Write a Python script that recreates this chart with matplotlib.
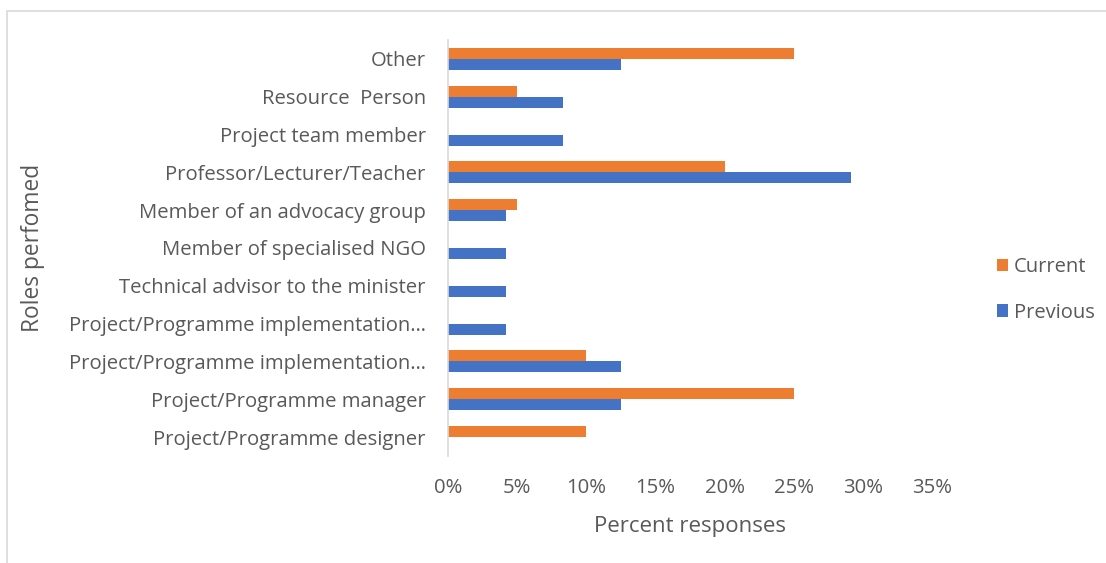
import matplotlib.pyplot as plt
import matplotlib.patches as mpatches
import numpy as np

# categories listed bottom to top
roles = [
    'Project/Programme designer',
    'Project/Programme manager',
    'Project/Programme implementation\u2026',
    'Project/Programme implementation\u2026',
    'Technical advisor to the minister',
    'Member of specialised NGO',
    'Member of an advocacy group',
    'Professor/Lecturer/Teacher',
    'Project team member',
    'Resource  Person',
    'Other',
]
current = [10, 25, 10, 0, 0, 0, 5, 20, 0, 5, 25]
previous = [0, 12.5, 12.5, 4.17, 4.17, 4.17, 4.17, 29.17, 8.33, 8.33, 12.5]
xticks = [0, 5, 10, 15, 20, 25, 30, 35]

plt.rcParams['font.family'] = ['Open Sans', 'DejaVu Sans']
txt = '#595959'

fig = plt.figure(figsize=(11.06, 5.63), dpi=100)
ax = fig.add_axes([448/1106, 1-456/563, (932-448)/1106, (456-40)/563])

y = np.arange(len(roles))
h = 0.29
ax.barh(y + h/2, current, height=h, color='#ED7D31', label='Current')
ax.barh(y - h/2, previous, height=h, color='#4472C4', label='Previous')

ax.set_xlim(0, 35)
ax.set_ylim(-0.5, len(roles) - 0.5)
ax.set_xticks(xticks)
ax.set_xticklabels([f'{t}%' for t in xticks])
ax.set_yticks(y)
ax.set_yticklabels(roles)
ax.tick_params(axis='both', length=0, labelsize=14.6, colors=txt)
ax.tick_params(axis='x', pad=16)
ax.tick_params(axis='y', pad=16)
for s in ['top', 'right', 'bottom']:
    ax.spines[s].set_visible(False)
ax.spines['left'].set_color('#D9D9D9')
ax.spines['left'].set_linewidth(1.2)

ax.set_xlabel('Percent responses', fontsize=16, color=txt, labelpad=13)
fig.text(33/1106, 1-248/563, 'Roles perfomed', rotation=90, fontsize=16.4,
         color=txt, ha='center', va='center')

handles, labels = ax.get_legend_handles_labels()
leg = fig.legend(handles, labels, loc='center left',
                 bbox_to_anchor=(989/1106, 1-290/563), frameon=False,
                 fontsize=14.5, handlelength=0.55, handleheight=0.55,
                 handletextpad=0.3, labelspacing=1.25, borderaxespad=0)
for t in leg.get_texts():
    t.set_color(txt)

# outer chart border
fig.patches.append(mpatches.Rectangle((7/1106, -0.1), 1.2, 1.1 - 11/563,
                                      transform=fig.transFigure, fill=False,
                                      edgecolor='#D9D9D9', linewidth=1.2))

fig.savefig('out.png', dpi=100)
